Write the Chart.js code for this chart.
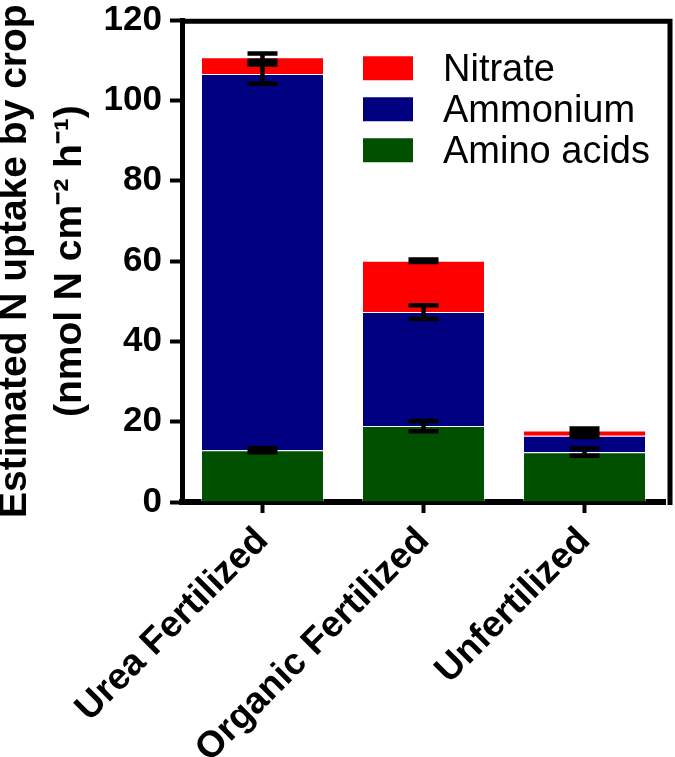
<!DOCTYPE html>
<html>
<head>
<meta charset="utf-8">
<script src="https://cdn.jsdelivr.net/npm/chart.js@4.4.1/dist/chart.umd.min.js"></script>
<style>
  html, body { margin: 0; padding: 0; background: #fff; }
</style>
</head>
<body>
<canvas id="uptakeChart" width="675" height="757"></canvas>
<script>
"use strict";

// values (nmol N cm-2 h-1)
let treatments = ["Urea Fertilized", "Organic Fertilized", "Unfertilized"];
let aminoAcids = [12.9, 18.9, 12.4];
let ammonium = [93.7, 28.4, 4.1];
let nitrate = [4.2, 12.8, 1.3];
// error bars sit on top of each stacked segment
let aminoAcidsErr = [0.5, 1.3, 0.9];
let ammoniumErr = [2.4, 1.7, 0.3];
let nitrateErr = [0.9, 0.3, 0.5];
let yTicks = [0, 20, 40, 60, 80, 100, 120];

let fontFamily = "'Liberation Sans', Arial, sans-serif";

// draw error bars after all bars so they end up on top
let errorBarPlugin = {
  id: "errorBars",
  afterDatasetsDraw(chart) {
    let ctx = chart.ctx;
    let yScale = chart.scales.y;
    ctx.save();
    ctx.strokeStyle = "#000";
    ctx.lineWidth = 4.5;
    chart.data.datasets.forEach((ds, i) => {
      let meta = chart.getDatasetMeta(i);
      meta.data.forEach((bar, j) => {
        let top = 0;
        for (let k = 0; k <= i; k++) {
          top += chart.data.datasets[k].data[j];
        }
        let err = ds.errors[j];
        let yHi = yScale.getPixelForValue(top + err);
        let yLo = yScale.getPixelForValue(top - err);
        let x = bar.x;
        ctx.beginPath();
        ctx.moveTo(x, yHi);
        ctx.lineTo(x, yLo);
        ctx.moveTo(x - 15, yHi);
        ctx.lineTo(x + 15, yHi);
        ctx.moveTo(x - 15, yLo);
        ctx.lineTo(x + 15, yLo);
        ctx.stroke();
      });
    });
    ctx.restore();
  }
};

// legend inside the plot, top to bottom = top of stack first
let legendPlugin = {
  id: "insideLegend",
  afterDraw(chart) {
    let ctx = chart.ctx;
    let area = chart.chartArea;
    let items = chart.data.datasets.slice().reverse();
    ctx.save();
    ctx.font = "38px " + fontFamily;
    ctx.textBaseline = "alphabetic";
    ctx.textAlign = "left";
    items.forEach((ds, i) => {
      let y = area.top + 36 + i * 41;
      ctx.fillStyle = ds.backgroundColor;
      ctx.fillRect(area.left + 181, y, 50, 24);
      ctx.fillStyle = "#000";
      ctx.fillText(ds.label, area.left + 261, y + 25);
    });
    ctx.restore();
  }
};

// top and right frame lines
let framePlugin = {
  id: "frame",
  afterDraw(chart) {
    let ctx = chart.ctx;
    let area = chart.chartArea;
    ctx.save();
    ctx.strokeStyle = "#000";
    ctx.lineWidth = 5;
    ctx.beginPath();
    ctx.moveTo(area.left, area.top + 1);
    ctx.lineTo(area.right + 5, area.top + 1);
    ctx.lineTo(area.right + 5, area.bottom + 3);
    ctx.stroke();
    ctx.restore();
  }
};

let segmentBorder = "rgba(255,255,255,0.45)";

let chart = new Chart(document.querySelector("#uptakeChart"), {
  type: "bar",
  data: {
    labels: treatments,
    datasets: [{
      label: "Amino acids",
      data: aminoAcids,
      errors: aminoAcidsErr,
      backgroundColor: "#005000",
      borderColor: segmentBorder,
      borderWidth: 1
    }, {
      label: "Ammonium",
      data: ammonium,
      errors: ammoniumErr,
      backgroundColor: "#000080",
      borderColor: segmentBorder,
      borderWidth: 1
    }, {
      label: "Nitrate",
      data: nitrate,
      errors: nitrateErr,
      backgroundColor: "#ff0000",
      borderColor: segmentBorder,
      borderWidth: 1
    }]
  },
  options: {
    responsive: false,
    animation: false,
    devicePixelRatio: 1,
    layout: { padding: { top: 20, right: 10, left: 0, bottom: 0 } },
    datasets: {
      bar: { categoryPercentage: 1, barPercentage: 0.764 }
    },
    plugins: {
      legend: { display: false },
      tooltip: { enabled: false }
    },
    scales: {
      x: {
        stacked: true,
        grid: { display: true, drawOnChartArea: false, offset: false, tickLength: 11, tickWidth: 4, tickColor: "#000" },
        border: { display: true, width: 6, color: "#000" },
        ticks: {
          color: "#000",
          padding: 6,
          minRotation: 45,
          maxRotation: 45,
          font: { family: fontFamily, size: 37, weight: "bold" }
        },
        afterFit: scale => { scale.height = 255; }
      },
      y: {
        stacked: true,
        min: 0,
        max: 120,
        afterBuildTicks: scale => { scale.ticks = yTicks.map(v => ({ value: v })); },
        grid: { drawOnChartArea: false, tickLength: 12, tickWidth: 4, tickColor: "#000" },
        border: { display: true, width: 5, color: "#000" },
        ticks: {
          color: "#000",
          padding: 8,
          font: { family: fontFamily, size: 35, weight: "bold", lineHeight: 0.7 }
        },
        title: {
          display: true,
          text: ["Estimated N uptake by crop", "(nmol N cm\u207B\u00B2 h\u207B\u00B9)"],
          color: "#000",
          padding: { top: -12, bottom: 0 },
          font: { family: fontFamily, size: 39, weight: "bold", lineHeight: 1.4 }
        },
        afterFit: scale => { scale.width = 182; }
      }
    }
  },
  plugins: [errorBarPlugin, legendPlugin, framePlugin]
});
</script>
</body>
</html>
